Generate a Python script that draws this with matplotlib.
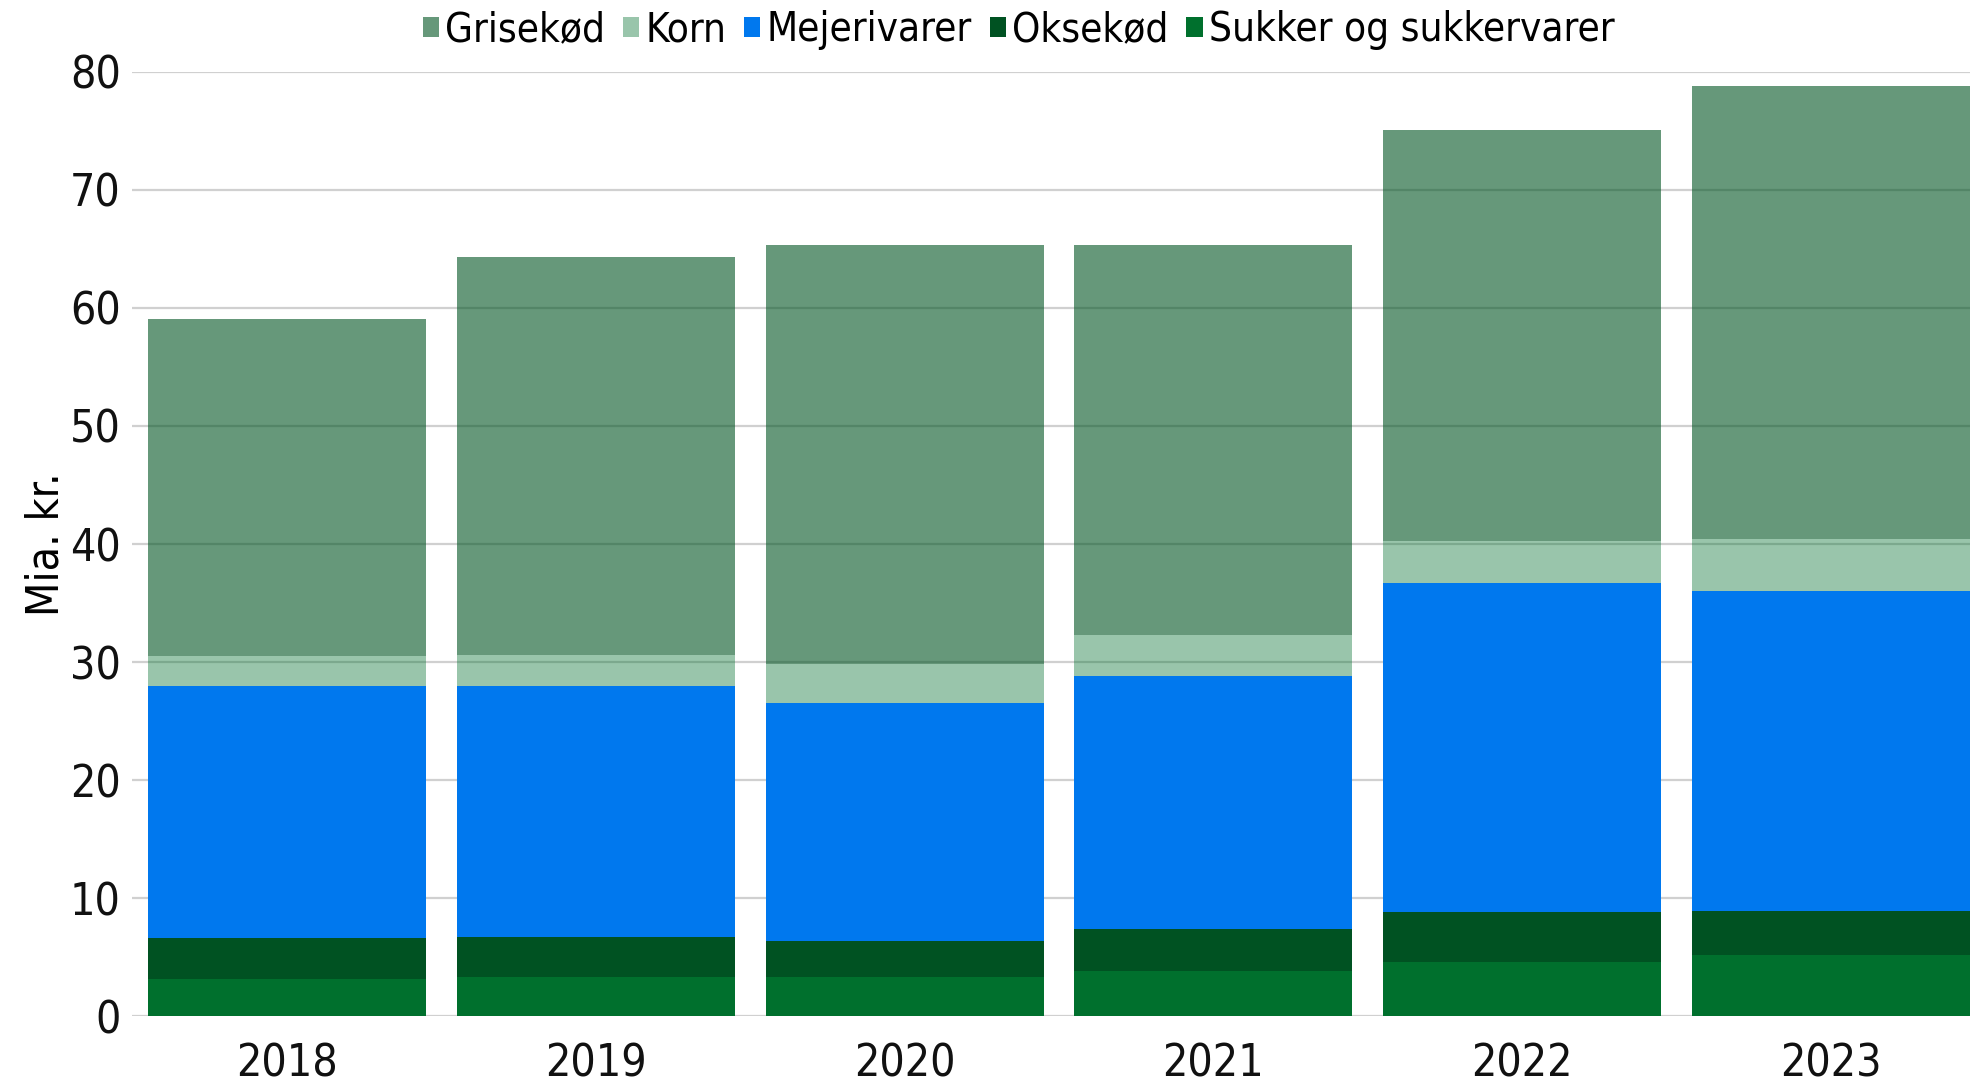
import numpy as np
import matplotlib
matplotlib.use("Agg")
import matplotlib.pyplot as plt
from matplotlib import font_manager
from matplotlib.patches import Patch

years = ["2018", "2019", "2020", "2021", "2022", "2023"]
sukker = [3.2, 3.3, 3.3, 3.8, 4.6, 5.2]
oksekod = [3.4, 3.4, 3.1, 3.6, 4.2, 3.7]
mejeri = [21.4, 21.3, 20.1, 21.4, 27.9, 27.1]
korn = [2.5, 2.6, 3.3, 3.5, 3.6, 4.4]
grisekod = [28.6, 33.7, 35.5, 33.0, 34.8, 38.4]

# pick a condensed family if one is installed
cond = [f for f in font_manager.fontManager.ttflist if "ondensed" in f.name or f.stretch == "condensed"]
FAMILY = cond[0].name if cond else "DejaVu Sans"
plt.rcParams["font.family"] = FAMILY
plt.rcParams["font.stretch"] = "condensed"

fig = plt.figure(figsize=(19.7, 10.87), dpi=100)
ax = fig.add_axes([0.067, 0.065, 0.933, 0.869])

x = np.arange(len(years))
w = 0.9
series = [
    ("Sukker og sukkervarer", sukker, "#00702D", 1.0),
    ("Oksekød", oksekod, "#005222", 1.0),
    ("Mejerivarer", mejeri, "#0078EE", 1.0),
    ("Korn", korn, "#00702D", 0.4),
    ("Grisekød", grisekod, "#005321", 0.6),
]
bottom = np.zeros(len(years))
handles = {}
for name, vals, col, a in series:
    ax.bar(x, vals, w, bottom=bottom, color=col, alpha=a, zorder=1, linewidth=0)
    bottom += np.array(vals)
    handles[name] = Patch(facecolor=col, alpha=a)

ax.set_xlim(-0.502, 5.45)
ax.set_ylim(0, 80)
ax.set_yticks(range(0, 81, 10))
ax.set_xticks(x)
ax.set_xticklabels(years)
ax.grid(axis="y", color="#D0D0D0", lw=1.6, zorder=0)
ax.set_axisbelow(True)
for s in ax.spines.values():
    s.set_visible(False)
ax.tick_params(axis="both", length=0, labelsize=32, colors="#111111")
ax.tick_params(axis="y", pad=8)
ax.tick_params(axis="x", pad=19)
ax.set_ylabel("Mia. kr.", fontsize=32, labelpad=2)

order = ["Grisekød", "Korn", "Mejerivarer", "Oksekød", "Sukker og sukkervarer"]
fig.legend([handles[n] for n in order], order, loc="center", bbox_to_anchor=(0.517, 0.972),
           ncol=5, frameon=False, fontsize=29, handlelength=0.4, handleheight=0.4,
           handletextpad=0.15, columnspacing=0.45)

fig.savefig("out.png", dpi=100)
